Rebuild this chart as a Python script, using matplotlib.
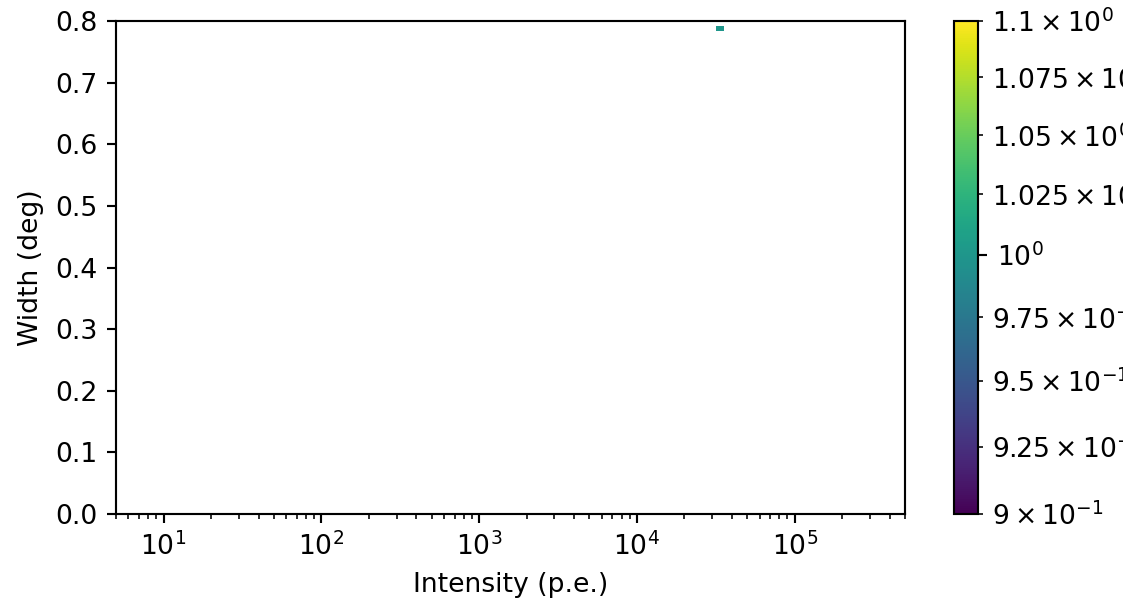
import numpy as np
import matplotlib
matplotlib.use('Agg')
import matplotlib.pyplot as plt
from matplotlib.colors import LogNorm

# events (only one survives the cuts)
intensity = np.array([3.4e4])
width = np.array([0.788])

x_bins = np.logspace(np.log10(5), np.log10(5e5), 101)
y_bins = np.linspace(0, 0.8, 101)

DPI = 192
fig = plt.figure(figsize=(1123/DPI, 601/DPI), dpi=DPI)
ax = fig.add_axes([116/1123, 1-514/601, (905-116)/1123, (514-21)/601])
cax = fig.add_axes([954/1123, 1-514/601, 24/1123, (514-21)/601])

h = ax.hist2d(intensity, width, bins=[x_bins, y_bins], norm=LogNorm())
ax.set_xscale('log')
ax.set_xlim(5, 5e5)
ax.set_ylim(0, 0.8)
ax.set_xlabel('Intensity (p.e.)')
ax.set_ylabel('Width (deg)')
fig.colorbar(h[3], cax=cax)

plt.savefig('out.png', dpi=DPI)
